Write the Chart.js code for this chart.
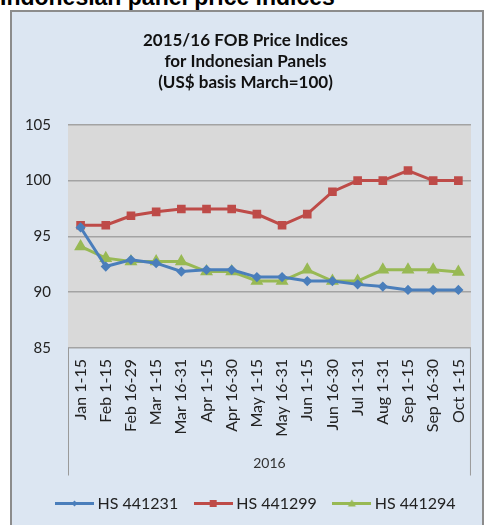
<!DOCTYPE html>
<html>
<head>
<meta charset="utf-8">
<script src="https://cdn.jsdelivr.net/npm/chart.js@4.4.0/dist/chart.umd.min.js"></script>
<style>
  body { margin: 0; width: 489px; height: 525px; overflow: hidden; background: #fff; position: relative; }
  #heading { position: absolute; left: 0; top: -14px; font: bold 23px/23px "Liberation Sans", Arial, sans-serif; color: #000; white-space: nowrap; }
  #frame { position: absolute; left: 10px; top: 10px; width: 474px; height: 530px; box-sizing: border-box; border: 2px solid #8c8c8c; background: #dce6f2; }
  #wrap { position: absolute; left: 0; top: 0; width: 489px; height: 525px; }
</style>
</head>
<body>
<div id="heading">Indonesian panel price indices</div>
<div id="frame"></div>
<div id="wrap"><canvas id="chart"></canvas></div>
<script>
// half-month periods of 2016
const categories = ['Jan 1-15', 'Feb 1-15', 'Feb 16-29', 'Mar 1-15', 'Mar 16-31', 'Apr 1-15', 'Apr 16-30',
  'May 1-15', 'May 16-31', 'Jun 1-15', 'Jun 16-30', 'Jul 1-31', 'Aug 1-31', 'Sep 1-15', 'Sep 16-30', 'Oct 1-15'];

const hs441231 = [95.8, 92.3, 92.9, 92.6, 91.85, 92.0, 92.0, 91.35, 91.35, 91.0, 91.0, 90.7, 90.5, 90.2, 90.2, 90.2];
const hs441299 = [96.0, 96.0, 96.85, 97.2, 97.45, 97.45, 97.45, 97.0, 96.0, 97.0, 99.0, 100.0, 100.0, 100.9, 100.0, 100.0];
const hs441294 = [94.1, 93.05, 92.75, 92.75, 92.75, 91.85, 91.85, 91.0, 91.0, 92.0, 91.0, 91.0, 92.0, 92.0, 92.0, 91.8];

const seriesNames = ['HS 441231', 'HS 441299', 'HS 441294'];
const yTicks = [85, 90, 95, 100, 105];

const BLUE = '#4a7ebb';
const RED = '#be4b48';
const GREEN = '#98b954';
const FONT = 'Lato, "Open Sans", sans-serif';

// little line + marker swatch for the legend, like Excel draws it
function legendIcon(color, marker) {
  const c = document.createElement('canvas');
  c.width = 39;
  c.height = 11;
  const ctx = c.getContext('2d');
  ctx.strokeStyle = color;
  ctx.fillStyle = color;
  ctx.lineWidth = 3;
  ctx.beginPath();
  ctx.moveTo(0, 5.5);
  ctx.lineTo(39, 5.5);
  ctx.stroke();
  ctx.beginPath();
  if (marker === 'diamond') {
    ctx.moveTo(19.5, 2.5); ctx.lineTo(22.5, 5.5); ctx.lineTo(19.5, 8.5); ctx.lineTo(16.5, 5.5);
  } else if (marker === 'square') {
    ctx.rect(16, 2, 7, 7);
  } else {
    ctx.moveTo(19.5, 1.5); ctx.lineTo(23.5, 8.5); ctx.lineTo(15.5, 8.5);
  }
  ctx.closePath();
  ctx.fill();
  return c;
}
const legendIcons = [legendIcon(BLUE, 'diamond'), legendIcon(RED, 'square'), legendIcon(GREEN, 'triangle')];

const plotArea = {
  id: 'plotArea',
  afterLayout(chart) {
    // legend sits a bit right of the title in the original
    chart.legend.left += 12;
    chart.legend.right += 12;
  },
  beforeDraw(chart) {
    const { ctx, chartArea } = chart;
    ctx.save();
    ctx.fillStyle = '#d9d9d9';
    ctx.fillRect(chartArea.left, chartArea.top, chartArea.right - chartArea.left, chartArea.bottom - chartArea.top);
    ctx.restore();
  },
  afterDraw(chart) {
    // box round the category labels
    const { ctx, chartArea } = chart;
    const x = chart.scales.x;
    ctx.save();
    ctx.strokeStyle = '#9a9a9a';
    ctx.lineWidth = 1;
    ctx.beginPath();
    ctx.moveTo(chartArea.left + 0.5, chartArea.bottom);
    ctx.lineTo(chartArea.left + 0.5, x.bottom);
    ctx.moveTo(chartArea.right - 0.5, chartArea.bottom);
    ctx.lineTo(chartArea.right - 0.5, x.bottom);
    ctx.stroke();
    ctx.restore();
  }
};

new Chart(document.getElementById('chart'), {
  type: 'line',
  data: {
    labels: categories,
    datasets: [
      {
        label: seriesNames[0],
        data: hs441231,
        borderColor: BLUE,
        backgroundColor: BLUE,
        borderWidth: 3,
        pointStyle: 'rectRot',
        pointRadius: 3,
        tension: 0
      },
      {
        label: seriesNames[1],
        data: hs441299,
        borderColor: RED,
        backgroundColor: RED,
        borderWidth: 3,
        pointStyle: 'rect',
        pointRadius: 4,
        tension: 0
      },
      {
        label: seriesNames[2],
        data: hs441294,
        borderColor: GREEN,
        backgroundColor: GREEN,
        borderWidth: 3,
        pointStyle: 'triangle',
        pointRadius: 4.5,
        tension: 0
      }
    ]
  },
  options: {
    responsive: true,
    maintainAspectRatio: false,
    animation: false,
    layout: {
      padding: { left: 16, right: 14, top: 0, bottom: 3.5 }
    },
    plugins: {
      title: {
        display: true,
        text: ['2015/16 FOB Price Indices', 'for Indonesian Panels', '(US$ basis March=100)'],
        color: '#111',
        font: { family: FONT, size: 17, weight: 'bold', lineHeight: 1.25 },
        padding: { top: 29.5, bottom: 31.5 }
      },
      legend: {
        position: 'bottom',
        labels: {
          usePointStyle: true,
          pointStyleWidth: 30,
          padding: 20,
          color: '#222',
          font: { family: FONT, size: 16 },
          generateLabels(chart) {
            const items = Chart.defaults.plugins.legend.labels.generateLabels(chart);
            items.forEach((item, i) => { item.pointStyle = legendIcons[i]; });
            return items;
          }
        }
      },
      tooltip: { enabled: false }
    },
    scales: {
      x: {
        offset: true,
        grid: { display: false, drawTicks: false },
        border: { display: false },
        ticks: {
          minRotation: 90,
          maxRotation: 90,
          autoSkip: false,
          padding: 11,
          color: '#222',
          font: { family: FONT, size: 16 }
        },
        title: {
          display: true,
          text: '2016',
          color: '#333',
          font: { family: FONT, size: 14 },
          padding: { top: 0, bottom: 4 }
        },
        afterFit(scale) { scale.height = 127.5; }
      },
      y: {
        min: 85,
        max: 105,
        afterBuildTicks(scale) { scale.ticks = yTicks.map(v => ({ value: v })); },
        grid: { color: '#a3a3a3', lineWidth: 1.5, drawTicks: false },
        border: { display: false },
        ticks: {
          padding: 17,
          color: '#222',
          font: { family: FONT, size: 15 }
        },
        afterFit(scale) { scale.width = 52; }
      }
    }
  },
  plugins: [plotArea]
});
</script>
</body>
</html>
